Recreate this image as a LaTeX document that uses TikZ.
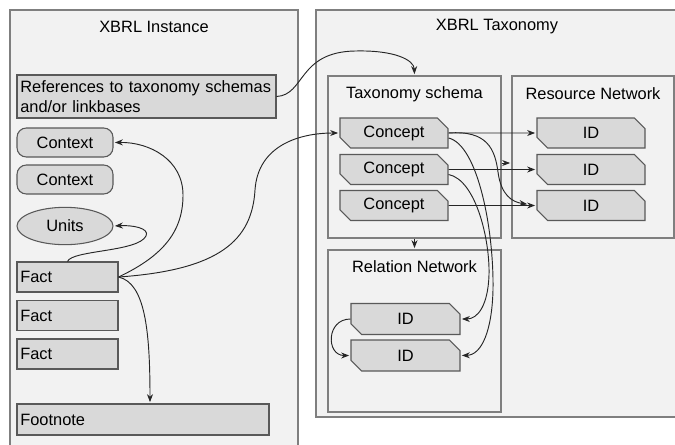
\documentclass[tikz,border=0pt]{standalone}
\usepackage{fontspec}
\setmainfont{Liberation Sans}
\usetikzlibrary{shapes.geometric,shapes.misc,arrows.meta,calc}
\definecolor{panelfill}{HTML}{F2F2F2}
\definecolor{panelline}{HTML}{7F7F7F}
\definecolor{boxfill}{HTML}{D9D9D9}
\definecolor{boxline}{HTML}{595959}
\definecolor{wire}{HTML}{262626}

\begin{document}
\begin{tikzpicture}[x=0.75pt,y=-0.75pt,shorten >=1pt,->,>={Stealth[length=6pt,width=4.5pt]}]
    \tikzstyle{every node}=[font=\fontsize{12.3}{14.5}\selectfont]
    \tikzstyle{every edge}=[draw=wire,line width=0.7pt]
    \tikzstyle{link}=[draw=wire,line width=0.7pt]
    \tikzstyle{panel}=[draw=panelline,fill=panelfill,line width=0.8pt,inner sep=0pt]
    \tikzstyle{item}=[draw=boxline,fill=boxfill,line width=0.8pt]
    \tikzstyle{concept}=[item,chamfered rectangle,chamfered rectangle corners={north east,south west},
        chamfered rectangle xsep=4pt,chamfered rectangle ysep=4pt,minimum width=81pt,minimum height=22.5pt,inner sep=1pt]
    \tikzstyle{context}=[item,rounded corners=7pt,minimum width=72pt,minimum height=21.75pt]
    \tikzstyle{units}=[item,ellipse,minimum width=72pt,minimum height=28pt,inner sep=0pt]
    \tikzstyle{fact}=[item,text width=70.75pt,align=left,inner xsep=2.5pt,minimum height=22.5pt]

    \useasboundingbox (0,0) rectangle (675,444);

    % Draw the two outer panels
    \node[panel,minimum width=216pt,minimum height=337.5pt] (inst) at (154,235) {};
    \node[panel,minimum width=288pt,minimum height=305.25pt] (tax) at (508,213.5) {};
    \node (inst-t) at (154,27) {XBRL Instance};
    \node (tax-t) at (497,27) {XBRL Taxonomy};

    % Draw the inner panels of the taxonomy
    \node[panel,minimum width=129.75pt,minimum height=121.5pt] (schema) at (414.5,157) {};
    \node[panel,minimum width=121.5pt,minimum height=121.5pt] (res) at (593,157) {};
    \node[panel,minimum width=129.75pt,minimum height=121.5pt] (rel) at (414.5,331) {};
    \node (schema-t) at (414.5,94) {Taxonomy schema};
    \node (res-t) at (593,94) {Resource Network};
    \node (rel-t) at (414.5,267) {Relation Network};

    % Instance items
    \node[fact,text width=189.25pt,minimum height=32.25pt,inner ysep=2pt] (refs) at (146.5,96.5)
        {References to taxonomy schemas\\and/or linkbases};
    \foreach \name / \y in {1/142.5,2/179.5}
        \node[context] (X-\name) at (65,\y) {Context};
    \node[units] (U) at (65,226) {Units};
    \foreach \name / \y in {1/277,2/315.5,3/354}
        \node[fact] (F-\name) at (67.5,\y) {Fact};
    \node[fact,text width=184pt,minimum height=23.25pt] (fn) at (143,419.5) {Footnote};

    % Concepts and their resources
    \foreach \name / \y in {1/133,2/169.5,3/205.5} {
        \node[concept] (C-\name) at (394,\y) {Concept};
        \node[concept] (R-\name) at (591,\y) {ID};
    }
    \foreach \name / \y in {1/319,2/355.5}
        \node[concept,minimum width=81.75pt,minimum height=23.25pt] (L-\name) at (405.5,\y) {ID};

    % Connect every concept with its resource
    \foreach \source in {1,2,3}
        \path (C-\source) edge (R-\source);
    \path ($(schema.east)+(0,6)$) edge ($(res.west)+(0,6)$);
    \path (schema) edge (rel);

    % Links from the first fact
    \draw[link] (F-1.east) .. controls (220,270) and (252,240) .. (255,190)
        .. controls (258,145) and (300,133) .. (C-1.west);
    \draw[link] (F-1.east) .. controls (165,255) and (183,230) .. (183,195)
        .. controls (183,160) and (150,142) .. (X-1.east);
    \draw[link] (F-1.north) .. controls (72,250) and (138,252) .. (146,236)
        .. controls (150,228) and (132,225) .. (U.east);
    \draw[link] (F-1.east) .. controls (145,283) and (150,330) .. ($(fn.north)+(7,0)$);
    \draw[link] (refs.east) .. controls (305,95) and (298,52) .. (355,51)
        .. controls (395,50) and (414,60) .. (schema.north);

    % Links from the concepts
    \draw[link,shorten >=7pt] (C-1.east) .. controls (488,130) and (495,150) .. (498,172)
        .. controls (501,195) and (512,202) .. (R-3.west);
    \draw[link] ($(C-1.east)+(0,5)$) .. controls (478,145) and (494,230) .. (493,290)
        .. controls (492,330) and (482,355) .. (L-2.east);
    \draw[link] ($(C-2.east)+(0,5)$) .. controls (476,180) and (490,240) .. (489,275)
        .. controls (488,305) and (478,319) .. (L-1.east);
    \draw[link] (L-1.west) .. controls (326,319) and (326,355.5) .. (L-2.west);
\end{tikzpicture}
\end{document}
